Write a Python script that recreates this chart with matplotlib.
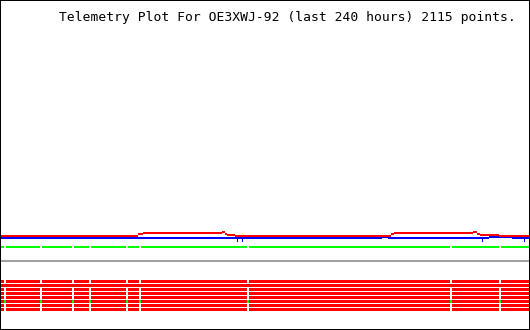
import numpy as np
import matplotlib
matplotlib.use("Agg")
import matplotlib.pyplot as plt

# time axis in hours (last 240 hours), values in arbitrary telemetry units
title = "Telemetry Plot For OE3XWJ-92 (last 240 hours) 2115 points."

# channel 1 (red, top trace) - step changes
red_t = [0, 62.5, 64.9, 100.5, 101.9, 102.8, 106.4, 177.1, 178.4, 214.2, 216.0, 217.4, 226.0, 240]
red_v = [94, 96, 97, 98, 96, 95, 94, 96, 97, 98, 96, 95, 94, 94]

# channel 2 (blue)
blue_t = [0, 172.9, 175.7, 221.4, 231.8, 240]
blue_v = [92, 93, 92, 93, 92, 92]
blue_dip_t = [107.3, 109.6, 218.3, 237.3]
blue_dip_v = 89.5

# flat channels
green_v = 83
gray_v = 69
bits_v = [48.5, 44.5, 40.5, 36.5, 32.5, 28.5, 24.5, 20.5]
bits_nogap = [44.5]
green_bit_v = 28.5

# hours where no packets were received
gap_t = [2.3, 18.6, 33.1, 40.8, 57.5, 63.4, 112.3, 204.2, 226.4]
gap_w = 0.3


def segments(gaps):
    starts = [0.0] + [g + gap_w for g in gaps]
    ends = [g - gap_w for g in gaps] + [240.0]
    return [(s, e - s) for s, e in zip(starts, ends)]


def band(ax, t, v, color, half=1.0):
    v = np.asarray(v, dtype=float)
    ax.fill_between(t, v - half, v + half, step="post", color=color,
                    linewidth=0, antialiased=False)


fig = plt.figure(figsize=(5.3, 3.3), dpi=100)
ax = fig.add_axes([0, 0, 1, 1])
ax.set_xlim(0, 240)
ax.set_ylim(0, 330)
ax.set_xticks([])
ax.set_yticks([])
for s in ax.spines.values():
    s.set_linewidth(1.44)
    s.set_color("black")

band(ax, [0, 240], [gray_v, gray_v], "#a0a0a0")
ax.broken_barh(segments(gap_t), (green_v - 1, 2), facecolors="#00ff00",
               linewidth=0, antialiased=False)

ax.broken_barh([(0, 240)], (green_bit_v - 1.5, 3), facecolors="#00ff00",
               linewidth=0, antialiased=False)
for v in bits_v:
    segs = [(0, 240)] if v in bits_nogap else segments(gap_t)
    ax.broken_barh(segs, (v - 1.5, 3), facecolors="#ff0000",
                   linewidth=0, antialiased=False)

band(ax, blue_t, blue_v, "#0000ff")
ax.vlines(blue_dip_t, blue_dip_v, blue_v[0], color="#0000ff", lw=0.72, antialiased=False)
band(ax, red_t, red_v, "#ff0000")

fig.text(59 / 530, 1 - 21 / 330, title, family="DejaVu Sans Mono", fontsize=9.34,
         ha="left", va="baseline", color="black")

fig.savefig("out.png", dpi=100)
